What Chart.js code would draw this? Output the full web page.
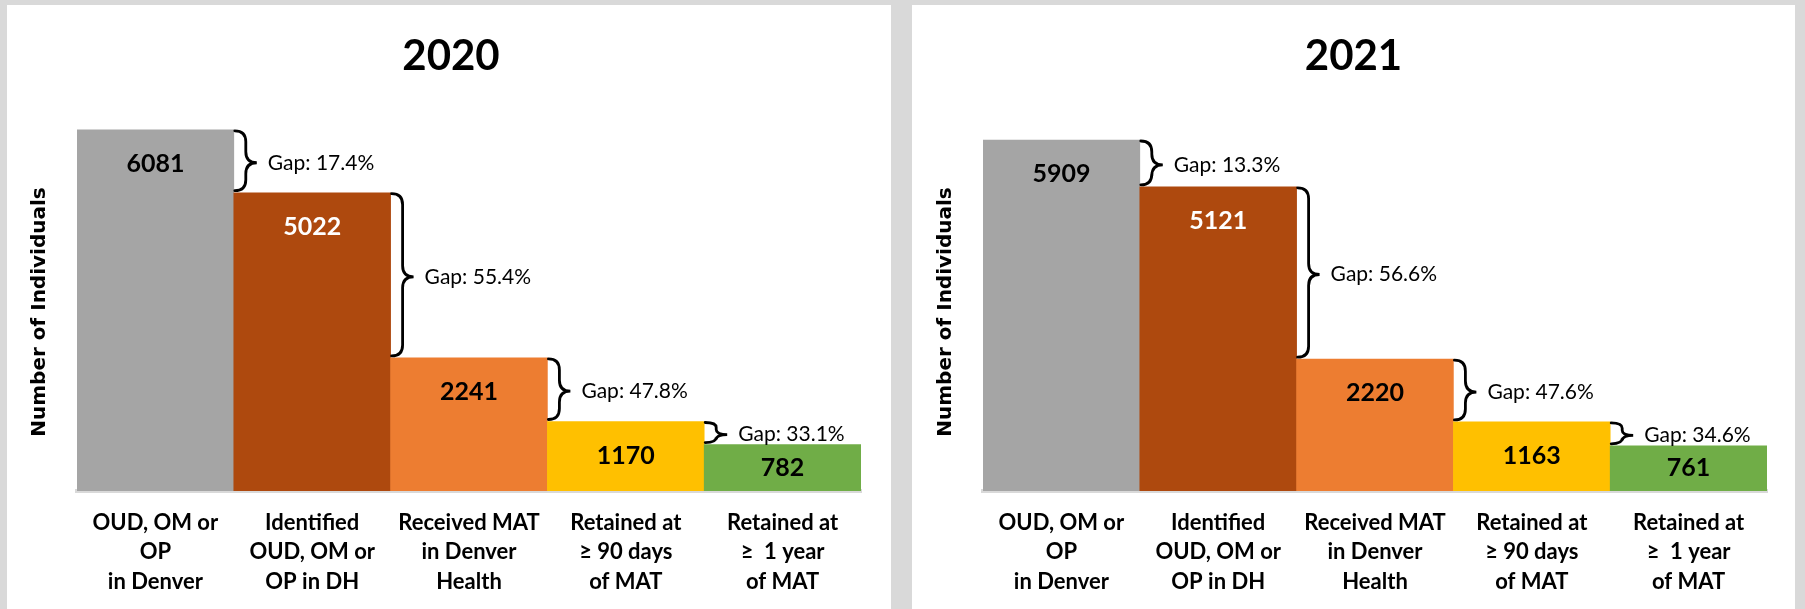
<!DOCTYPE html>
<html>
<head>
<meta charset="utf-8">
<script src="https://cdn.jsdelivr.net/npm/chart.js@4.4.1/dist/chart.umd.min.js"></script>
<style>
  html, body { margin: 0; padding: 0; }
  body { width: 1805px; height: 609px; background: #d9d9d9; position: relative; overflow: hidden; }
  .panel { position: absolute; top: 5px; height: 604px; background: #fff; }
  #panel2020 { left: 7px; width: 884px; }
  #panel2021 { left: 912px; width: 883px; }
  canvas { display: block; }
</style>
</head>
<body>
<div class="panel" id="panel2020"><canvas id="chart2020"></canvas></div>
<div class="panel" id="panel2021"><canvas id="chart2021"></canvas></div>
<script>
const categories = [
  ['OUD, OM or', 'OP', 'in Denver'],
  ['Identified', 'OUD, OM or', 'OP in DH'],
  ['Received MAT', 'in Denver', 'Health'],
  ['Retained at', '≥ 90 days', 'of MAT'],
  ['Retained at', '≥  1 year', 'of MAT']
];
const values2020 = [6081, 5022, 2241, 1170, 782];
const values2021 = [5909, 5121, 2220, 1163, 761];
const gaps2020 = ['17.4%', '55.4%', '47.8%', '33.1%'];
const gaps2021 = ['13.3%', '56.6%', '47.6%', '34.6%'];
const yAxisTitle = 'Number of Individuals';

const barColors = ['#a5a5a5', '#ae490e', '#ed7d31', '#ffc000', '#70ad47'];
const valueColors = ['#000', '#fff', '#000', '#000', '#000'];

// curly brace "}" from top to bottom, tip pointing right at mid
function drawBrace(ctx, x, top, bottom, mid, w) {
    const r = Math.min(w / 2, (bottom - top) / 4);
    const xm = x + w / 2;
    ctx.beginPath();
    ctx.moveTo(x, top);
    ctx.quadraticCurveTo(xm, top, xm, top + r);
    ctx.lineTo(xm, mid - r);
    ctx.quadraticCurveTo(xm, mid, x + w, mid);
    ctx.quadraticCurveTo(xm, mid, xm, mid + r);
    ctx.lineTo(xm, bottom - r);
    ctx.quadraticCurveTo(xm, bottom, x, bottom);
    ctx.stroke();
}

const funnelMarks = {
    id: 'funnelMarks',
    afterDatasetsDraw(chart, args, opts) {
        const ctx = chart.ctx;
        const bars = chart.getDatasetMeta(0).data;
        const values = chart.data.datasets[0].data;
        ctx.save();

        // value labels inside the bars
        ctx.font = 'bold 25px Lato';
        ctx.textAlign = 'center';
        ctx.textBaseline = 'middle';
        bars.forEach((bar, i) => {
            const h = bar.base - bar.y;
            ctx.fillStyle = valueColors[i];
            ctx.fillText(String(values[i]), bar.x, bar.y + Math.min(34, h / 2));
        });

        // gap braces between neighbouring bars
        ctx.strokeStyle = '#000';
        ctx.lineWidth = 2.8;
        ctx.lineCap = 'round';
        ctx.font = '21px Lato';
        ctx.textAlign = 'left';
        ctx.fillStyle = '#000';
        for (let i = 0; i < bars.length - 1; i++) {
            const x0 = bars[i].x + bars[i].width / 2 + 1;
            const y0 = bars[i].y + 1;
            const y1 = bars[i + 1].y - 2;
            const mid = (y0 + y1) / 2 + 2;
            drawBrace(ctx, x0, y0, y1, mid, 22);
            ctx.fillText('Gap: ' + opts.gaps[i], x0 + 33, mid);
        }

        // y axis title
        const area = chart.chartArea;
        ctx.translate(area.left - 37, area.bottom - 179);
        ctx.rotate(-Math.PI / 2);
        ctx.font = 'bold 20px "DejaVu Sans"';
        ctx.textAlign = 'center';
        ctx.fillText(yAxisTitle, 0, 0);
        ctx.restore();
    }
};

function buildChart(id, year, values, gaps, pad) {
    return new Chart(document.getElementById(id), {
        type: 'bar',
        data: {
            labels: categories,
            datasets: [{
                data: values,
                backgroundColor: barColors,
                borderWidth: 0,
                categoryPercentage: 1,
                barPercentage: 1
            }]
        },
        options: {
            responsive: true,
            maintainAspectRatio: false,
            animation: false,
            layout: { padding: { left: pad.left, right: pad.right, top: 0, bottom: 12 } },
            plugins: {
                legend: { display: false },
                tooltip: { enabled: false },
                title: {
                    display: true,
                    text: year,
                    color: '#000',
                    font: { family: 'Lato', size: 42, weight: 'bold', lineHeight: 1.2 },
                    padding: { top: 25.8, bottom: 5.9 }
                },
                funnelMarks: { gaps: gaps }
            },
            scales: {
                x: {
                    grid: { display: false, drawTicks: false },
                    border: { display: true, color: '#d9d9d9', width: 4 },
                    ticks: {
                        color: '#000',
                        padding: 17,
                        maxRotation: 0,
                        autoSkip: false,
                        font: { family: 'Lato', size: 22, weight: 'bold', lineHeight: 1.34 }
                    },
                    afterFit: s => { s.height = 106; }
                },
                y: {
                    min: 0,
                    max: 6800,
                    ticks: { display: false },
                    grid: { display: false, drawTicks: false },
                    border: { display: false },
                    afterFit: s => { s.width = pad.axis; }
                }
            }
        },
        plugins: [funnelMarks]
    });
}

buildChart('chart2020', '2020', values2020, gaps2020, { left: 34, right: 30, axis: 36 });
buildChart('chart2021', '2021', values2021, gaps2021, { left: 28, right: 28, axis: 43 });
</script>
</body>
</html>
